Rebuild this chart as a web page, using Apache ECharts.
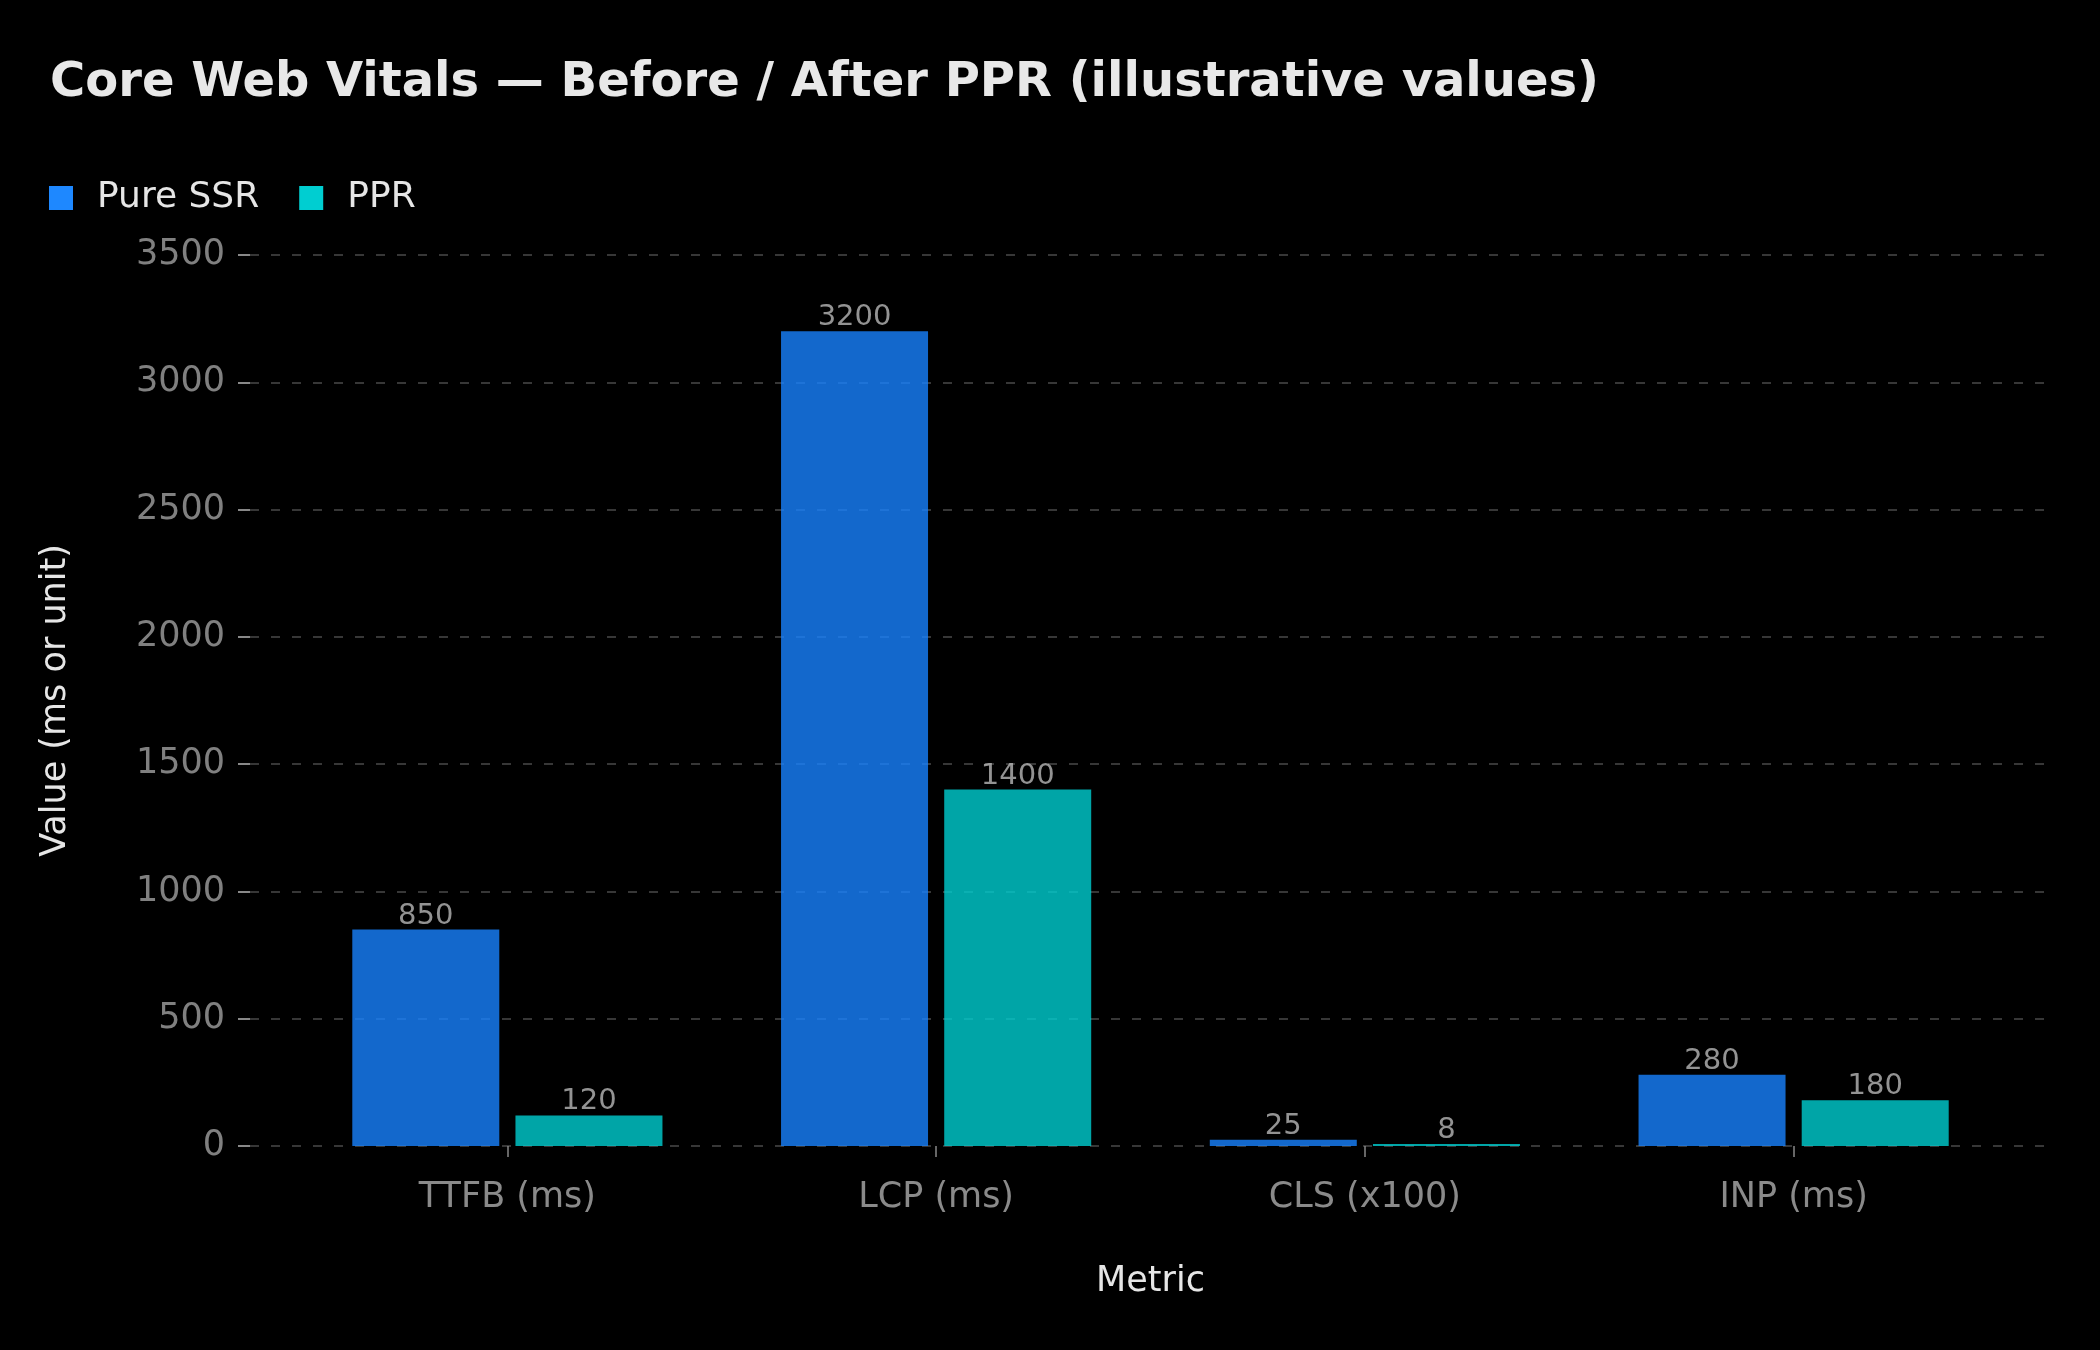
<!DOCTYPE html>
<html>
<head>
    <meta charset="utf-8">
    <title>Core Web Vitals</title>
    <script src="https://cdn.jsdelivr.net/npm/echarts@6/dist/echarts.min.js"></script>
    <style>
        html, body { margin: 0; padding: 0; background: #000; }
        #main { width: 2100px; height: 1350px; }
    </style>
</head>
<body>
    <div id="main"></div>
    <script>
        // data
        const metrics = ['TTFB (ms)', 'LCP (ms)', 'CLS (x100)', 'INP (ms)'];
        const pureSSR = [850, 3200, 25, 280];
        const ppr = [120, 1400, 8, 180];
        const yTicks = [0, 500, 1000, 1500, 2000, 2500, 3000, 3500];

        const FONT = 'DejaVu Sans';
        const blue = '#1E88FF';
        const teal = '#00CED1';

        const chart = echarts.init(document.getElementById('main'));

        const barLabel = {
            show: true,
            position: 'top',
            distance: -1,
            color: '#b8b8b8',
            fontSize: 29,
            fontFamily: FONT
        };

        chart.setOption({
            backgroundColor: '#000',
            animation: false,
            title: {
                text: 'Core Web Vitals — Before / After PPR (illustrative values)',
                left: 45,
                top: 55,
                textStyle: { color: '#e8e8e8', fontSize: 48, fontWeight: 'bold', fontFamily: FONT }
            },
            legend: {
                data: [
                    { name: 'Pure SSR', itemStyle: { color: blue, opacity: 1 } },
                    { name: 'PPR', itemStyle: { color: teal, opacity: 1 } }
                ],
                left: 44,
                top: 175,
                icon: 'rect',
                itemWidth: 24,
                itemHeight: 24,
                itemGap: 40,
                textStyle: { color: '#e6e6e6', fontSize: 36, fontFamily: FONT, padding: [0, 0, 0, 19] }
            },
            // grid 0 carries the y axis and grid lines, grid 1 the bars (matplotlib-like x margins)
            grid: [
                { left: 250, right: 55, top: 255, bottom: 204 },
                { left: 293, right: 92, top: 255, bottom: 204 }
            ],
            xAxis: [
                { gridIndex: 0, type: 'value', show: false, min: 0, max: 1 },
                {
                    gridIndex: 1,
                    type: 'category',
                    data: metrics,
                    name: 'Metric',
                    nameLocation: 'middle',
                    nameGap: 118,
                    nameTextStyle: { color: '#e6e6e6', fontSize: 35, fontFamily: FONT },
                    axisLine: { show: false },
                    axisTick: { show: true, alignWithLabel: true, length: 11, lineStyle: { color: '#888', width: 1.5 } },
                    axisLabel: { color: '#8a8a8a', fontSize: 35, fontFamily: FONT, margin: 34 }
                }
            ],
            yAxis: [
                {
                    gridIndex: 0,
                    type: 'value',
                    min: yTicks[0],
                    max: yTicks[yTicks.length - 1],
                    interval: 500,
                    name: 'Value (ms or unit)',
                    nameLocation: 'middle',
                    nameGap: 177,
                    nameTextStyle: { color: '#e6e6e6', fontSize: 35, fontFamily: FONT },
                    axisLine: { show: false },
                    axisTick: { show: true, length: 12, lineStyle: { color: '#888', width: 2 } },
                    axisLabel: { color: '#808080', fontSize: 35, fontFamily: FONT, margin: 25, formatter: v => String(v) },
                    splitLine: { show: true, lineStyle: { color: '#4a4a4a', width: 1.5, type: [9, 12] } }
                },
                {
                    gridIndex: 1,
                    type: 'value',
                    min: yTicks[0],
                    max: yTicks[yTicks.length - 1],
                    show: false,
                    splitLine: { show: false }
                }
            ],
            series: [
                {
                    name: 'Pure SSR',
                    type: 'bar',
                    xAxisIndex: 1,
                    yAxisIndex: 1,
                    data: pureSSR,
                    barWidth: 147,
                    barGap: '11%',
                    itemStyle: { color: '#1882FF', opacity: 0.8 },
                    label: barLabel
                },
                {
                    name: 'PPR',
                    type: 'bar',
                    xAxisIndex: 1,
                    yAxisIndex: 1,
                    data: ppr,
                    barWidth: 147,
                    barGap: '11%',
                    itemStyle: { color: teal, opacity: 0.8 },
                    label: barLabel
                }
            ]
        });

        window.addEventListener('resize', () => chart.resize());
    </script>
</body>
</html>
